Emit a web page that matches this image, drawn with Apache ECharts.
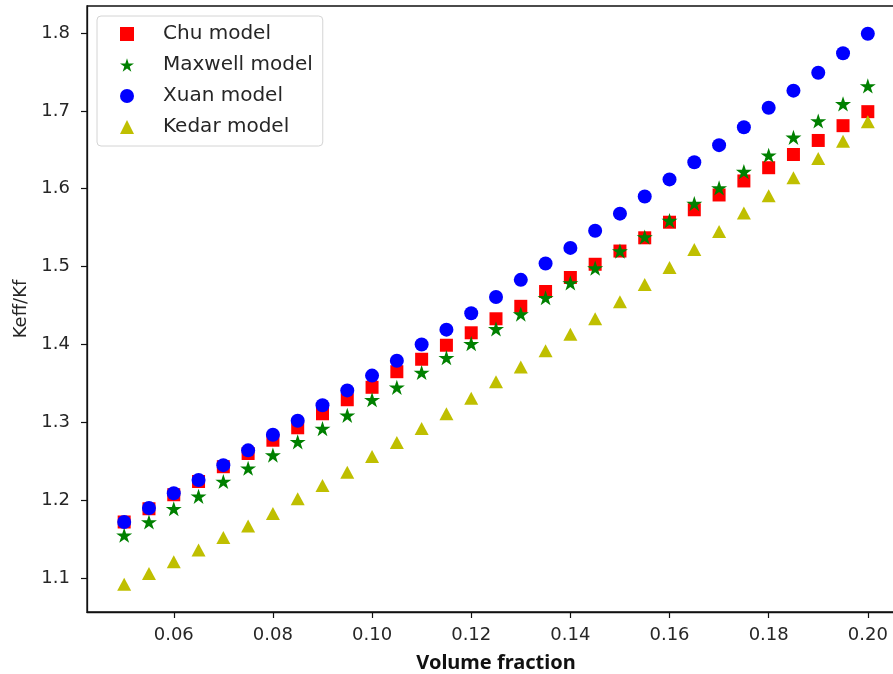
<!DOCTYPE html>
<html>
<head>
<meta charset="utf-8">
<script src="https://cdn.jsdelivr.net/npm/echarts@6.0.0/dist/echarts.min.js"></script>
<style>
html,body{margin:0;padding:0;background:#fff;}
#chart{width:893px;height:674px;}
</style>
</head>
<body>
<div id="chart"></div>
<script>
const volumeFraction = [0.050,0.055,0.060,0.065,0.070,0.075,0.080,0.085,0.090,0.095,0.100,0.105,0.110,0.115,0.120,0.125,0.130,0.135,0.140,0.145,0.150,0.155,0.160,0.165,0.170,0.175,0.180,0.185,0.190,0.195,0.200];
const chuModel = [1.172,1.189,1.207,1.224,1.243,1.260,1.277,1.293,1.311,1.329,1.345,1.365,1.381,1.399,1.415,1.433,1.449,1.468,1.486,1.503,1.520,1.537,1.557,1.573,1.592,1.610,1.627,1.644,1.662,1.681,1.699];
const maxwellModel = [1.155,1.172,1.189,1.205,1.224,1.241,1.258,1.275,1.292,1.309,1.329,1.345,1.364,1.383,1.401,1.420,1.439,1.460,1.479,1.498,1.520,1.538,1.559,1.581,1.601,1.622,1.643,1.666,1.687,1.709,1.732];
const xuanModel = [1.172,1.190,1.209,1.226,1.245,1.264,1.284,1.302,1.322,1.341,1.360,1.379,1.400,1.419,1.440,1.461,1.483,1.504,1.524,1.546,1.568,1.590,1.612,1.634,1.656,1.679,1.704,1.726,1.749,1.774,1.799];
const kedarModel = [1.092,1.106,1.121,1.136,1.152,1.167,1.183,1.202,1.219,1.236,1.256,1.274,1.292,1.311,1.331,1.352,1.371,1.392,1.413,1.433,1.455,1.477,1.499,1.522,1.545,1.569,1.591,1.614,1.639,1.661,1.686];
const xTicks = [0.06,0.08,0.10,0.12,0.14,0.16,0.18,0.20];
const yTicks = [1.1,1.2,1.3,1.4,1.5,1.6,1.7,1.8];
const seriesNames = ['Chu model','Maxwell model','Xuan model','Kedar model'];

const starPath = 'path://M100,0 L122.45,69.1 L195.11,69.1 L136.33,111.8 L158.78,180.9 L100,138.2 L41.22,180.9 L63.67,111.8 L4.89,69.1 L77.55,69.1 Z';
const pairs = ys => volumeFraction.map((x,i)=>[x, ys[i]]);
const tickFont = {fontFamily:'DejaVu Sans', fontSize:18, color:'#262626'};

const chart = echarts.init(document.getElementById('chart'), null, {renderer:'canvas'});
chart.setOption({
  animation:false,
  backgroundColor:'#fff',
  grid:{left:87, top:6, width:818, height:606, containLabel:false, outerBoundsMode:'none',
        show:true, borderColor:'#111', borderWidth:1.3, backgroundColor:'transparent'},
  legend:{
    left:97, top:16, orient:'vertical',
    data:seriesNames,
    padding:[7,10,8,23],
    backgroundColor:'rgba(255,255,255,0.85)',
    borderColor:'#d4d4d4', borderWidth:1, borderRadius:4,
    itemWidth:14, itemHeight:14, itemGap:9,
    textStyle:{fontFamily:'DejaVu Sans', fontSize:20, color:'#262626', lineHeight:22, padding:[0,0,0,24]}
  },
  xAxis:{
    type:'value', min:0.0425, max:0.2075,
    name:'Volume fraction', nameLocation:'middle', nameGap:41,
    nameTextStyle:{fontFamily:'Noto Sans', fontWeight:'bold', fontSize:20, color:'#111'},
    axisLine:{show:true, onZero:false, lineStyle:{color:'#111', width:1.3}},
    axisTick:{show:true, length:6, customValues:xTicks, lineStyle:{color:'#111', width:1.2}},
    axisLabel:Object.assign({customValues:xTicks, margin:14, formatter:v=>v.toFixed(2)}, tickFont),
    splitLine:{show:false}
  },
  yAxis:{
    type:'value', min:1.0564, max:1.8347,
    name:'Keff/Kf', nameLocation:'middle', nameGap:54, nameRotate:90,
    nameTextStyle:{fontFamily:'DejaVu Sans', fontSize:18, color:'#262626'},
    axisLine:{show:true, onZero:false, lineStyle:{color:'#111', width:1.3}},
    axisTick:{show:true, length:6, customValues:yTicks, lineStyle:{color:'#111', width:1.2}},
    axisLabel:Object.assign({customValues:yTicks, margin:17, formatter:v=>v.toFixed(1)}, tickFont),
    splitLine:{show:false}
  },
  series:[
    {name:seriesNames[0], type:'scatter', data:pairs(chuModel), symbol:'rect', symbolSize:13, itemStyle:{color:'#ff0000', opacity:1}},
    {name:seriesNames[1], type:'scatter', data:pairs(maxwellModel), symbol:starPath, symbolKeepAspect:true, symbolSize:16, itemStyle:{color:'#008000', opacity:1}},
    {name:seriesNames[2], type:'scatter', data:pairs(xuanModel), symbol:'circle', symbolSize:14, itemStyle:{color:'#0000ff', opacity:1}},
    {name:seriesNames[3], type:'scatter', data:pairs(kedarModel), symbol:'triangle', symbolSize:[14,13], itemStyle:{color:'#bfbf00', opacity:1}}
  ]
});
</script>
</body>
</html>
